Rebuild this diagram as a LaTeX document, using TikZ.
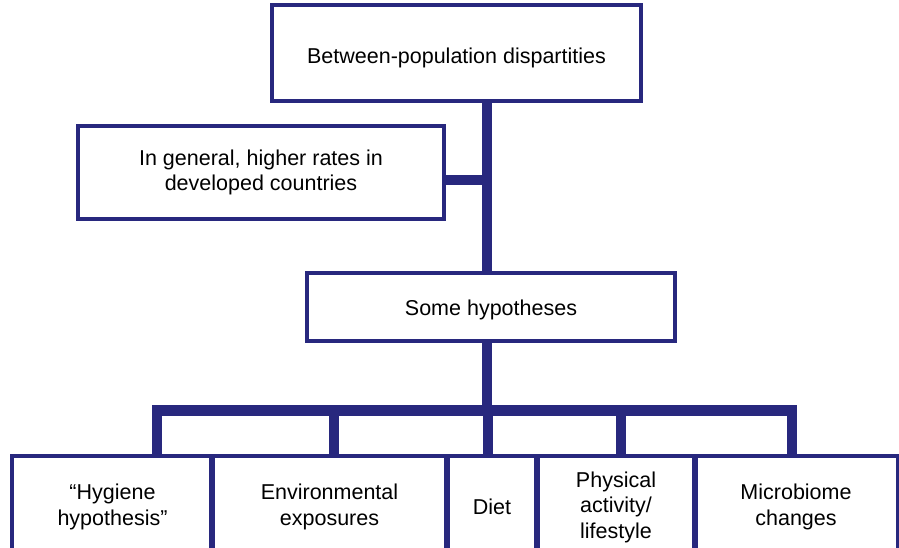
\documentclass[tikz,border=0pt]{standalone}
\usepackage{fontspec}
\setmainfont{Liberation Sans}
\definecolor{navy}{RGB}{40,40,126}
\newcommand{\lowertext}[2]{\raisebox{-#1}[\height][\depth]{#2}}
\begin{document}
\begin{tikzpicture}[x=1pt,y=-1pt,
  box/.style={draw=navy, line width=2.8pt, fill=white, inner sep=0pt, align=center,
    font=\fontsize{21.5}{25.5}\selectfont},
  conn/.style={draw=navy, line width=10.5pt}]
\useasboundingbox (0,0) rectangle (899,547);
\clip (0,0) rectangle (899,547);
% boxes
\node[box, minimum width=367pt, minimum height=94pt] (top) at (456.5,53) {\lowertext{4.5pt}{Between-population dispartities}};
\node[box, minimum width=364pt, minimum height=91pt] (gen) at (261,172.5) {In general, higher rates in\\developed countries};
\node[box, minimum width=366pt, minimum height=66pt] (hyp) at (491,307) {\lowertext{2.5pt}{Some hypotheses}};
\node[box, minimum width=199pt, minimum height=100pt] (b1) at (112.5,507) {\char"201C Hygiene\\hypothesis\char"201D};
\node[box, minimum width=235pt, minimum height=100pt] (b2) at (329.5,507) {Environmental\\exposures};
\node[box, minimum width=90pt, minimum height=100pt] (b3) at (492,507) {Diet};
\node[box, minimum width=158pt, minimum height=100pt] (b4) at (616,507) {Physical\\activity/\\lifestyle};
\node[box, minimum width=202pt, minimum height=100pt] (b5) at (796,507) {Microbiome\\changes};
% connector coordinates
\coordinate (spine) at (487,180);
\coordinate (bar) at (487,410.5);
\coordinate (d1) at (157,410.5);
\coordinate (d2) at (334,410.5);
\coordinate (d3) at (488,410.5);
\coordinate (d4) at (621,410.5);
\coordinate (d5) at (792,410.5);
% connectors
\path[conn] (top.south -| spine) -- (hyp.north -| spine);
\path[conn] (gen.east |- spine) -- (spine);
\path[conn] (hyp.south -| bar) -- (bar);
\path[conn, line cap=rect] (d1) -- (d5);
\path[conn] (d1) -- (d1 |- b1.north);
\path[conn] (d2) -- (d2 |- b2.north);
\path[conn] (d3) -- (d3 |- b3.north);
\path[conn] (d4) -- (d4 |- b4.north);
\path[conn] (d5) -- (d5 |- b5.north);
% box outlines over connector ends
\foreach \n in {top,gen,hyp,b1,b2,b3,b4,b5}{
  \draw[navy, line width=2.8pt] (\n.north west) rectangle (\n.south east);
}
\end{tikzpicture}
\end{document}
